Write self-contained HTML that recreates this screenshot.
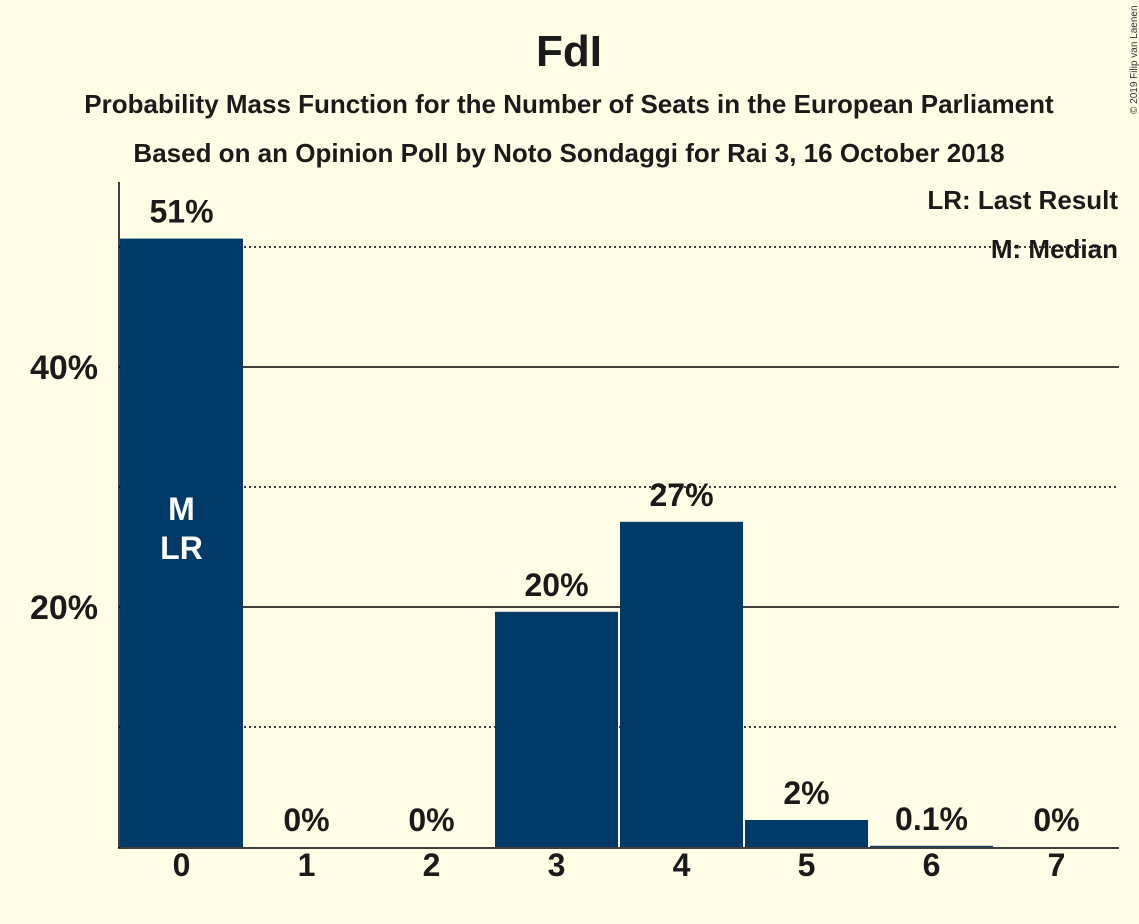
<!DOCTYPE html>
<html><head><meta charset="utf-8"><style>
body{margin:0;background:#fffde6;}
svg{display:block;font-family:"Liberation Sans",sans-serif;font-weight:bold;}
</style></head><body>
<svg id="c" width="1139" height="924">
<rect width="1139" height="924" fill="#fffde6"/>
<text x="569" y="66" font-size="44" text-anchor="middle" fill="#1a1a1a">FdI</text>
<text x="569" y="113" font-size="26" text-anchor="middle" fill="#1a1a1a">Probability Mass Function for the Number of Seats in the European Parliament</text>
<text x="569" y="162" font-size="26" text-anchor="middle" fill="#1a1a1a">Based on an Opinion Poll by Noto Sondaggi for Rai 3, 16 October 2018</text>
<text transform="translate(1137,114) rotate(-90)" font-size="10" font-weight="normal" fill="#333">© 2019 Filip van Laenen</text>
<g id="grid"></g>
<g id="bars"></g>
<line x1="119" y1="182" x2="119" y2="848" stroke="#000" stroke-width="1.5"/>
<line x1="118" y1="848" x2="1119" y2="848" stroke="#000" stroke-width="1.5"/>
<text x="1118" y="209" font-size="26" text-anchor="end" fill="#1a1a1a">LR: Last Result</text>
<text x="1118" y="258" font-size="26" text-anchor="end" fill="#1a1a1a">M: Median</text>
</svg>
<script>
const categories=["0","1","2","3","4","5","6","7"];
const values=[50.7,0,0,19.6,27.1,2.25,0.1,0];
const valueLabels=["51%","0%","0%","20%","27%","2%","0.1%","0%"];
const majorTicks=[20,40];
const minorTicks=[10,30,50];
const medianIndex=0, lastResultIndex=0;
const NS="http://www.w3.org/2000/svg";
const x0=119,slot=125,y0=847,ppu=12;
const X=i=>x0+i*slot, Y=v=>y0-v*ppu;
const grid=document.getElementById('grid'),bars=document.getElementById('bars');
function mk(tag,attrs,parent,txt){const e=document.createElementNS(NS,tag);for(const k in attrs)e.setAttribute(k,attrs[k]);if(txt!==undefined)e.textContent=txt;parent.appendChild(e);return e;}
minorTicks.forEach(t=>{const l=mk('line',{x1:119,x2:1119,y1:Y(t),y2:Y(t),stroke:'#000','stroke-width':1.5,'stroke-dasharray':'2,3'},grid);

});
majorTicks.forEach(t=>{const l=mk('line',{x1:119,x2:1119,y1:Y(t),y2:Y(t),stroke:'#000','stroke-width':1.5},grid);


const tx=mk('text',{x:98,y:Y(t)+12,'font-size':34,'text-anchor':'end',fill:'#1a1a1a'},grid,t+'%');

});
categories.forEach((c,i)=>{const v=values[i];const cx=X(i)+slot/2;
if(v>0){const r=mk('rect',{x:X(i)+1,y:Y(v),width:slot-2,height:y0-Y(v),fill:'#003a69'},bars);

}
const vl=mk('text',{x:cx,y:Y(v)-16,'font-size':32,'text-anchor':'middle',fill:'#1a1a1a'},bars,valueLabels[i]);


const xl=mk('text',{x:cx,y:876,'font-size':32,'text-anchor':'middle',fill:'#1a1a1a'},bars,c);


if(i===medianIndex){const m=mk('text',{x:cx,y:520,'font-size':32,'text-anchor':'middle',fill:'#fff'},bars,'M');

}
if(i===lastResultIndex){const m=mk('text',{x:cx,y:559,'font-size':32,'text-anchor':'middle',fill:'#fff'},bars,'LR');

}
});
</script>
</body></html>
